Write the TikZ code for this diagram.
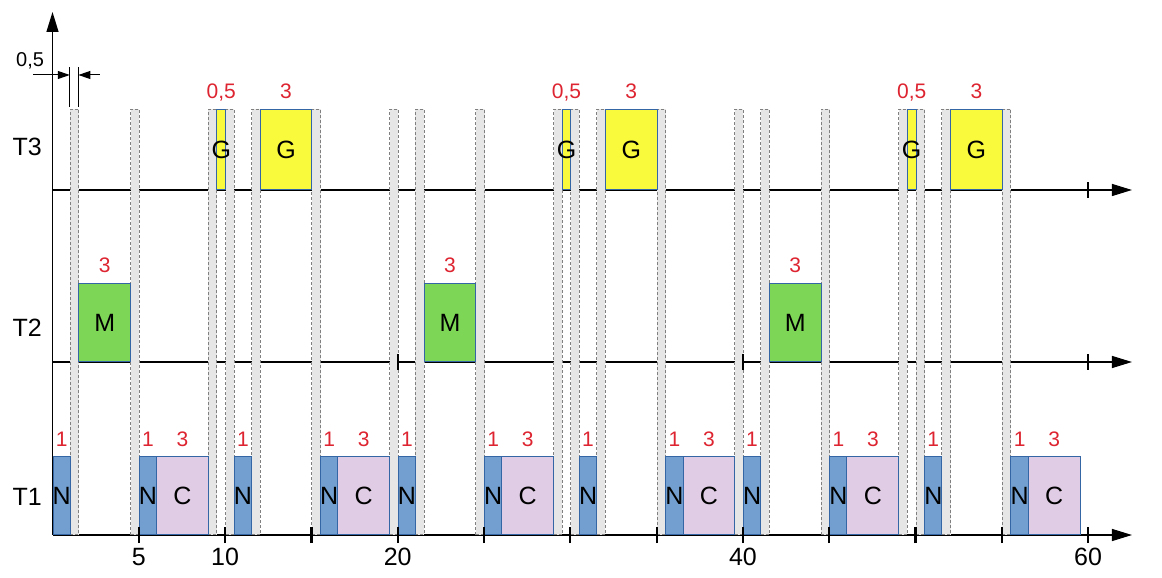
\documentclass[tikz,border=0pt]{standalone}
\usepackage{fontspec}
\setmainfont{Liberation Sans}
\usetikzlibrary{arrows.meta}

\definecolor{nblue}{HTML}{729FCF}
\definecolor{nframe}{HTML}{3465A4}
\definecolor{clilac}{HTML}{E0CCE4}
\definecolor{mgreen}{HTML}{7ED656}
\definecolor{gyellow}{HTML}{FAFA3C}
\definecolor{slotgray}{HTML}{E6E6E6}
\definecolor{slotline}{HTML}{808080}
\definecolor{durred}{HTML}{DD2430}

\tikzset{
  axis/.style={line width=0.6pt, -{Triangle[length=10pt,width=6pt]}},
  axtick/.style={line width=1.1pt},
  slotbox/.style={draw=slotline, fill=slotgray, dash pattern=on 1.5pt off 1pt,
    line width=0.5pt, anchor=south west, inner sep=0pt,
    minimum width=4.315pt, minimum height=212.5pt},
  task/.style={draw=nframe, line width=0.5pt, anchor=south west, inner sep=0pt,
    minimum height=39pt, font=\fontsize{12.5}{15}\selectfont},
  nbox/.style={task, fill=nblue, minimum width=8.63pt},
  cbox/.style={task, fill=clilac, minimum width=25.89pt},
  mbox/.style={task, fill=mgreen, minimum width=25.89pt},
  gbox/.style={task, fill=gyellow, minimum width=25.89pt, minimum height=40pt},
  gthin/.style={task, fill=gyellow, minimum width=4.315pt, minimum height=40pt},
  dur/.style={text=durred, anchor=base, font=\fontsize{10.5}{12}\selectfont},
  lab/.style={font=\fontsize{12.5}{15}\selectfont},
  dim/.style={line width=0.5pt, -{Triangle[length=6pt,width=4pt]}}
}

\begin{document}
\begin{tikzpicture}[x=8.63pt, y=0.5pt]

  \fill[white] (-3.042,0) rectangle (64.28,577);
  \useasboundingbox (-3.042,0) rectangle (64.28,577);

  % axes
  \coordinate (o1) at (0,42);    \coordinate (e1) at (62.54,42);
  \coordinate (o2) at (0,215);   \coordinate (e2) at (62.54,215);
  \coordinate (o3) at (0,387);   \coordinate (e3) at (62.54,387);
  \coordinate (top) at (0,565);
  \draw[axis] (o1) -- (top);
  \draw[axis] (o1) -- (e1);
  \draw[axis] (o2) -- (e2);
  \draw[axis] (o3) -- (e3);

  \node[lab] (T1) at (-1.46,80)  {T1};
  \node[lab] (T2) at (-1.46,249) {T2};
  \node[lab] (T3) at (-1.46,430) {T3};

  % switch slots
  \foreach \s [count=\i] in {1,4.5,9,10,11.5,15,19.5,21,24.5,29,30,31.5,35,
                             39.5,41,44.5,49,50,51.5,55}
    \node[slotbox] (s\i) at (\s,42) {};

  % T1
  \foreach \s [count=\i] in {0,5,10.5,15.5,20,25,30.5,35.5,40,45,50.5,55.5} {
    \node[nbox] (n\i) at (\s,42) {\makebox[0pt]{N}};
    \node[dur] (dn\i) at ([yshift=5pt]n\i.north) {1};
  }
  \foreach \s [count=\i] in {6,16.5,26,36.5,46,56.5} {
    \node[cbox] (c\i) at (\s,42) {\makebox[0pt]{C}};
    \node[dur] (dc\i) at ([yshift=5pt]c\i.north) {3};
  }

  % T2
  \node[mbox] (m1) at (1.5,215)  {M};
  \node[mbox] (m2) at (21.5,215) {M};
  \node[mbox] (m3) at (41.5,215) {M};
  \node[dur] (dm1) at ([yshift=5pt]m1.north) {3};
  \node[dur] (dm2) at ([yshift=5pt]m2.north) {3};
  \node[dur] (dm3) at ([yshift=5pt]m3.north) {3};

  % T3
  \node[gthin] (g1) at (9.5,387)  {\makebox[0pt]{G}};
  \node[gthin] (g3) at (29.5,387) {\makebox[0pt]{G}};
  \node[gthin] (g5) at (49.5,387) {\makebox[0pt]{G}};
  \node[gbox]  (g2) at (12,387)   {G};
  \node[gbox]  (g4) at (32,387)   {G};
  \node[gbox]  (g6) at (52,387)   {G};
  \foreach \g/\d in {g1/{0,5},g3/{0,5},g5/{0,5},g2/3,g4/3,g6/3}
    \node[dur] (d\g) at ([yshift=5pt]\g.north) {\d};

  % ticks
  \foreach \t in {5,10,...,60}
    \draw[axtick] (\t,34) -- (\t,50);
  \foreach \t in {20,40,60}
    \draw[axtick] (\t,207) -- (\t,223);
  \draw[axtick] (60,379) -- (60,395);
  \foreach \t in {5,10,20,40,60}
    \node[lab] (x\t) at (\t,20) {\t};

  % 0,5 mark
  \coordinate (k1b) at (1,470);   \coordinate (k1t) at (1,510);
  \coordinate (k2b) at (1.5,470); \coordinate (k2t) at (1.5,510);
  \coordinate (k1) at (1,502);    \coordinate (k2) at (1.5,502);
  \coordinate (f1) at (-1.13,502); \coordinate (f2) at (2.75,502);
  \draw[line width=0.5pt] (k1b) -- (k1t);
  \draw[line width=0.5pt] (k2b) -- (k2t);
  \draw[dim] (f1) -- (k1);
  \draw[dim] (f2) -- (k2);
  \node[font=\fontsize{10}{12}\selectfont] (half) at (-1.3,516) {0,5};

\end{tikzpicture}
\end{document}
